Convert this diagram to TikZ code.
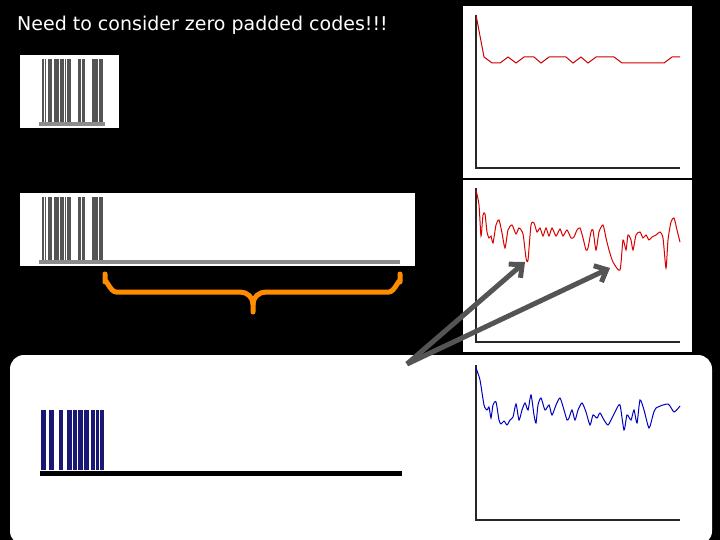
\documentclass[tikz,border=0pt]{standalone}
\usepackage{fontspec}
\setmainfont{DejaVu Sans}
\begin{document}
\begin{tikzpicture}[x=1pt,y=-1pt,
  panel/.style={fill=white,draw=none},
  axis/.style={line width=2pt,draw=black!85},
  gbar/.style={fill=black!67},
  bbar/.style={fill=blue!40!black!90},
  arr/.style={line width=5pt,draw=black!67,-{Straight Barb[length=10pt,width=18pt]}}]
\usetikzlibrary{arrows.meta}
\fill[black] (0,0) rectangle (720,540);
\useasboundingbox (0,0) rectangle (720,540);
\node[anchor=base west,text=white,font=\fontsize{19}{21}\selectfont,inner sep=0] (title) at (17,31) {Need to consider zero padded codes!!!};
% barcode boxes
\fill[panel] (20,55) rectangle (119,128);
\fill[panel] (20,193) rectangle (415,266);
\foreach \oy/\len in {0/105,138/400}{
  \foreach \a/\b in {42/43.7,45.3/46,48/52,54/59,60/64,65/66,67/71,78/81,82/85,92/98,99/103}
    \fill[gbar] (\a,59+\oy) rectangle (\b,122+\oy);
  \fill[black!45] (39,122+\oy) rectangle (\len,126+\oy);
}
% brace
\draw[line width=5pt,draw=orange!90!yellow,line cap=round,line join=round]
  (105,274) -- (105,282) to[out=90,in=180] (116,292) -- (240,292) to[out=0,in=90] (253,304) -- (253,312);
\draw[line width=5pt,draw=orange!90!yellow,line cap=round,line join=round]
  (400,274) -- (400,282) to[out=90,in=0] (389,292) -- (266,292) to[out=180,in=90] (253,304);
% bottom box
\fill[panel,rounded corners=14pt] (10,355) rectangle (712,545);
\foreach \a/\b in {41/46,49/54,59/63,67/72,73/77,78/83,84/89,91/95,96/99,100/104}
  \fill[bbar] (\a,410) rectangle (\b,470);
\fill[black] (40,471) rectangle (402,476);
% right panels
\fill[panel] (463,6) rectangle (692,178);
\fill[panel] (463,180) rectangle (692,352);
\draw[axis] (476,15) -- (476,168) -- (680,168);
\draw[axis] (476,188) -- (476,342) -- (680,342);
\draw[axis] (476,365) -- (476,520) -- (680,520);
\draw[red!80!black,line width=1pt] plot coordinates {(476,15)(484,57)(492,63)(500,63)(508,57)(516,63)(524,57)(534,57)(541,63)(549,57)(566,57)(573,63)(581,57)(588,63)(596,57)(614,57)(622,63)(664,63)(672,57)(680,57)};
\draw[red!85!black,line width=1pt] plot[smooth,tension=0.4] coordinates {(476,190)(479,205)(481,236)(483,215)(485,214)(487,232)(489,238)(491,236)(493,243)(496,225)(499,220)(502,233)(505,248)(508,230)(512,225)(516,234)(519,228)(523,234)(526,258)(528,260)(531,225)(534,223)(537,232)(540,228)(543,236)(546,228)(549,236)(552,228)(556,236)(560,229)(563,236)(567,230)(571,238)(574,237)(577,230)(580,228)(583,238)(586,250)(588,248)(591,232)(593,230)(596,250)(599,232)(603,225)(606,238)(609,250)(613,262)(620,270)(623,240)(626,250)(628,235)(631,240)(633,250)(636,235)(640,232)(643,238)(646,235)(649,240)(652,237)(656,235)(660,232)(663,238)(666,268)(668,240)(671,222)(674,218)(677,230)(680,242)};
\draw[blue!75!black,line width=1pt] plot[smooth,tension=0.4] coordinates {(476,368)(480,380)(484,405)(487,410)(489,407)(491,418)(493,405)(496,402)(499,420)(501,424)(504,421)(507,425)(510,420)(513,417)(516,404)(519,420)(522,410)(525,403)(528,410)(531,395)(534,415)(536,423)(538,405)(541,398)(545,410)(549,405)(552,415)(556,405)(560,398)(564,410)(567,420)(569,418)(572,410)(575,420)(578,410)(582,403)(586,412)(590,425)(593,415)(597,418)(600,413)(604,420)(608,425)(612,418)(616,410)(620,405)(624,430)(627,415)(631,420)(634,410)(637,423)(640,400)(644,410)(649,428)(653,415)(656,408)(668,404)(674,412)(680,406)};
% arrows
\coordinate (src) at (407,364);
\coordinate (t1) at (525,262);
\coordinate (t2) at (610,268);
\draw[arr] (src) -- (t1);
\draw[arr] (src) -- (t2);
\end{tikzpicture}
\end{document}
